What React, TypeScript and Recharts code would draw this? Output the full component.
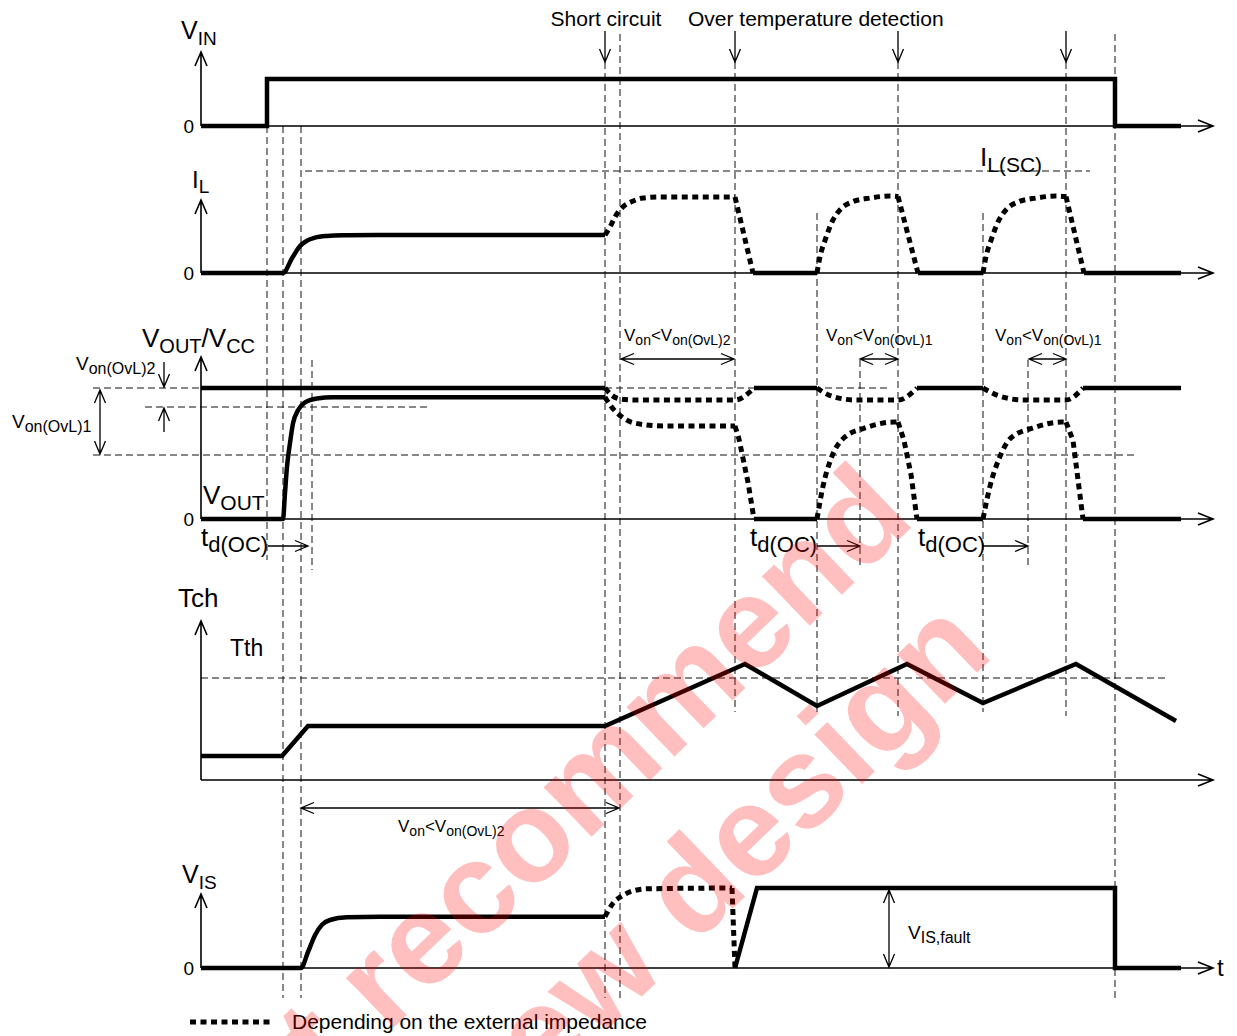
import React from "react";
import { ComposedChart, Line, XAxis, YAxis, ReferenceLine, ReferenceDot } from "recharts";

const W = 1237;
const H = 1036;
const FONT = "'Liberation Sans', Arial, Helvetica, sans-serif";

type Pt = [number, number | null];

// ---- signals: [time, value], null breaks a trace ----
// V_IN (1 = on)
const vinOn: Pt[] = [[0, 0], [6.6, 0], [6.6, 1], [91.4, 1], [91.4, 0], [98, 0]];

// I_L (1 = I_L(SC))
const ilNormal: Pt[] = [[0, 0], [8.2, 0], [9.1, 0.144], [9.9, 0.265], [10.6, 0.317], [11.4, 0.346], [12.6, 0.363], [14.2, 0.37], [17.6, 0.372], [40.4, 0.372]];
const ilOff: Pt[] = [[55.2, 0], [61.6, 0], [61.6, null], [71.7, 0], [78.2, 0], [78.2, null], [88.3, 0], [98, 0]];
const ilShortRise: Pt[] = [
  [40.4, 0.372], [40.9, 0.45], [41.4, 0.55], [42.1, 0.64], [43.1, 0.7], [44.2, 0.735], [45.9, 0.745], [53.4, 0.745], [53.4, null],
  [61.6, 0], [61.9, 0.16], [62.4, 0.32], [63.2, 0.52], [63.9, 0.62], [65.2, 0.7], [66.9, 0.735], [68.9, 0.755], [69.7, 0.75], [69.7, null],
  [78.2, 0], [78.5, 0.16], [79.0, 0.32], [79.8, 0.52], [80.5, 0.62], [81.8, 0.7], [83.5, 0.735], [85.5, 0.755], [86.5, 0.75],
];
const ilShortFall: Pt[] = [[53.4, 0.745], [55.2, 0], [55.2, null], [69.7, 0.75], [71.7, 0], [71.7, null], [86.5, 0.75], [88.3, 0]];

// V_CC and V_OUT (1 = V_CC)
const vccSolid: Pt[] = [[0, 1], [40.4, 1], [40.4, null], [55.3, 1], [61.6, 1], [61.6, null], [71.6, 1], [78.2, 1], [78.2, null], [88.2, 1], [98, 1]];
const vccDip: Pt[] = [
  [40.4, 1], [41.0, 0.95], [41.9, 0.916], [43.5, 0.908], [53.4, 0.908], [55.3, 1], [55.3, null],
  [61.6, 1], [63.0, 0.94], [65.5, 0.908], [69.7, 0.908], [71.6, 1], [71.6, null],
  [78.2, 1], [79.8, 0.94], [82.3, 0.908], [86.5, 0.908], [88.2, 1],
];
const voutNormal: Pt[] = [[0, 0], [8.2, 0], [8.4, 0.2], [8.6, 0.4], [8.9, 0.58], [9.2, 0.73], [9.7, 0.83], [10.4, 0.89], [11.6, 0.92], [13.2, 0.93], [40.4, 0.93]];
const voutOff: Pt[] = [[55.3, 0], [61.6, 0], [61.6, null], [71.6, 0], [78.2, 0], [78.2, null], [88.2, 0], [98, 0]];
const voutShortRise: Pt[] = [
  [40.4, 0.93], [41.0, 0.86], [41.9, 0.79], [43.3, 0.733], [46.2, 0.71], [53.4, 0.71], [53.4, null],
  [61.6, 0], [62.2, 0.25], [63.0, 0.46], [64.3, 0.62], [66.4, 0.695], [69.3, 0.74], [69.7, 0.74], [69.7, null],
  [78.2, 0], [78.9, 0.25], [79.8, 0.46], [81.0, 0.62], [83.2, 0.695], [86.1, 0.74], [86.5, 0.74],
];
const voutShortFall: Pt[] = [[53.4, 0.71], [53.8, 0.61], [54.7, 0.28], [55.3, 0], [55.3, null], [69.7, 0.74], [70.3, 0.6], [71.0, 0.34], [71.6, 0], [71.6, null], [86.5, 0.74], [87.2, 0.6], [88.2, 0]];

// T_ch (1 = Tth)
const tch: Pt[] = [[0, 0.235], [8.1, 0.235], [10.7, 0.53], [40.4, 0.53], [54.4, 1.137], [61.6, 0.725], [70.6, 1.137], [78.2, 0.755], [87.5, 1.137], [97.5, 0.578]];

// V_IS (1 = V_IS,fault)
const visNormal: Pt[] = [[0, 0], [10.0, 0], [10.7, 0.2], [11.4, 0.41], [12.1, 0.54], [12.9, 0.6], [14.6, 0.634], [17.9, 0.641], [40.4, 0.641]];
const visShortRise: Pt[] = [[40.4, 0.641], [41.2, 0.81], [42.1, 0.9], [43.1, 0.96], [44.6, 0.99], [53.1, 1]];
const visShortFall: Pt[] = [[53.1, 1], [53.4, 0]];
const visFault: Pt[] = [[53.4, 0], [55.6, 1], [91.4, 1], [91.4, 0], [98, 0]];

// ---- layout ----
const panels = [
  { id: "vin", base: 126, unit: 47, top: 52 },
  { id: "il", base: 273, unit: 102, top: 200 },
  { id: "vout", base: 519, unit: 131, top: 357 },
  { id: "tch", base: 780, unit: 102, top: 621 },
  { id: "vis", base: 968, unit: 80, top: 894 },
];

const series = [
  { axis: "vin", pts: vinOn, curve: "linear", dotted: false },
  { axis: "il", pts: ilNormal, curve: "monotone", dotted: false },
  { axis: "il", pts: ilOff, curve: "linear", dotted: false },
  { axis: "il", pts: ilShortRise, curve: "monotone", dotted: true },
  { axis: "il", pts: ilShortFall, curve: "linear", dotted: true },
  { axis: "vout", pts: vccSolid, curve: "linear", dotted: false },
  { axis: "vout", pts: vccDip, curve: "monotone", dotted: true },
  { axis: "vout", pts: voutNormal, curve: "monotone", dotted: false },
  { axis: "vout", pts: voutOff, curve: "linear", dotted: false },
  { axis: "vout", pts: voutShortRise, curve: "monotone", dotted: true },
  { axis: "vout", pts: voutShortFall, curve: "linear", dotted: true },
  { axis: "tch", pts: tch, curve: "linear", dotted: false },
  { axis: "vis", pts: visNormal, curve: "monotone", dotted: false },
  { axis: "vis", pts: visShortRise, curve: "monotone", dotted: true },
  { axis: "vis", pts: visShortFall, curve: "linear", dotted: true },
  { axis: "vis", pts: visFault, curve: "linear", dotted: false },
];

// dashed guides: vertical [t, y1, y2], horizontal [y, t1, t2]
const vGuides: [number, number, number][] = [
  [6.6, 126, 560], [8.2, 126, 998], [10.0, 126, 998], [11.1, 360, 570],
  [40.4, 62, 998], [41.9, 34, 998], [53.4, 62, 712], [61.6, 213, 712], [65.9, 360, 568],
  [69.7, 62, 716], [78.2, 213, 712], [82.7, 360, 568], [86.5, 62, 716], [91.4, 34, 998],
];
const hGuides: [number, number, number][] = [
  [171, 10.4, 88.9], [388, -10.8, 0], [388, 40.4, 69.0], [407, -5.6, 23.0], [455, -10.8, 93.4], [678, 0, 96.7],
];

type Head = "start" | "end" | "both";
const arrows: [number, number, number, number, Head][] = [
  [40.4, 31, 40.4, 62, "end"], [53.4, 31, 53.4, 62, "end"], [69.7, 31, 69.7, 62, "end"], [86.5, 31, 86.5, 62, "end"],
  [-3.7, 362, -3.7, 387, "end"], [-3.7, 432, -3.7, 408, "end"], [-10.1, 390, -10.1, 454, "both"],
  [6.7, 546, 10.7, 546, "end"], [61.6, 546, 65.9, 546, "end"], [78.2, 546, 82.7, 546, "end"],
  [42.0, 359, 53.3, 359, "both"], [65.9, 359, 69.7, 359, "both"], [82.8, 359, 86.5, 359, "both"],
  [10.0, 808, 41.8, 808, "both"], [68.8, 890, 68.8, 967, "both"],
];

type Part = [string, boolean?];
type Lbl = { t: number; y: number; parts: Part[]; size: number; sub?: number; anchor?: string };
const vOn = (n: string): Part[] => [["V"], ["on", true], ["<V"], ["on(OvL)" + n, true]];
const td: Part[] = [["t"], ["d(OC)", true]];
const labels: Lbl[] = [
  { t: -2.0, y: 39, parts: [["V"], ["IN", true]], size: 25, sub: 19 },
  { t: -0.9, y: 188, parts: [["I"], ["L", true]], size: 24, sub: 19 },
  { t: -5.9, y: 347, parts: [["V"], ["OUT", true], ["/V"], ["CC", true]], size: 26, sub: 20 },
  { t: -2.3, y: 607, parts: [["Tch"]], size: 26 },
  { t: 2.9, y: 656, parts: [["Tth"]], size: 23 },
  { t: -1.9, y: 883, parts: [["V"], ["IS", true]], size: 25, sub: 19 },
  { t: -0.7, y: 133, parts: [["0"]], size: 19, anchor: "end" },
  { t: -0.7, y: 280, parts: [["0"]], size: 19, anchor: "end" },
  { t: -0.7, y: 526, parts: [["0"]], size: 19, anchor: "end" },
  { t: -0.7, y: 975, parts: [["0"]], size: 19, anchor: "end" },
  { t: 101.6, y: 976, parts: [["t"]], size: 24 },
  { t: 40.5, y: 26, parts: [["Short circuit"]], size: 21, anchor: "middle" },
  { t: 48.7, y: 26, parts: [["Over temperature detection"]], size: 21 },
  { t: 77.9, y: 166, parts: [["I"], ["L(SC)", true]], size: 26, sub: 21 },
  { t: -12.5, y: 370, parts: [["V"], ["on(OvL)2", true]], size: 19, sub: 16 },
  { t: -18.9, y: 428, parts: [["V"], ["on(OvL)1", true]], size: 19, sub: 16 },
  { t: 0.2, y: 504, parts: [["V"], ["OUT", true]], size: 26, sub: 21 },
  { t: 0.0, y: 546, parts: td, size: 26, sub: 22 },
  { t: 54.9, y: 546, parts: td, size: 26, sub: 22 },
  { t: 71.7, y: 546, parts: td, size: 26, sub: 22 },
  { t: 42.3, y: 341, parts: vOn("2"), size: 17, sub: 14 },
  { t: 62.5, y: 341, parts: vOn("1"), size: 17, sub: 14 },
  { t: 79.4, y: 341, parts: vOn("1"), size: 17, sub: 14 },
  { t: 19.7, y: 832, parts: vOn("2"), size: 17, sub: 14 },
  { t: 70.7, y: 939, parts: [["V"], ["IS,fault", true]], size: 19, sub: 16 },
  { t: 9.1, y: 1029, parts: [["Depending on the external impedance"]], size: 21 },
];

const rows = (pts: Pt[]) => pts.map(([t, v]) => ({ t, v }));

const arrowShape = (head: Head, w: number, len = 13, half = 5.5) => (p: any) => {
  const { x1, y1, x2, y2 } = p;
  const L = Math.hypot(x2 - x1, y2 - y1) || 1;
  const ux = (x2 - x1) / L;
  const uy = (y2 - y1) / L;
  const wings = (tx: number, ty: number, s: number) => {
    const bx = tx - s * ux * len;
    const by = ty - s * uy * len;
    return `M${bx - uy * half},${by + ux * half}L${tx},${ty}L${bx + uy * half},${by - ux * half}`;
  };
  let d = `M${x1},${y1}L${x2},${y2}`;
  if (head !== "start") d += wings(x2, y2, 1);
  if (head !== "end") d += wings(x1, y1, -1);
  return <path d={d} fill="none" stroke="#000" strokeWidth={w} />;
};

const textShape = (l: Lbl) => (p: any) => {
  const shift = Math.round(l.size * 0.22);
  let low = false;
  return (
    <text x={p.cx} y={p.cy} fontFamily={FONT} fontSize={l.size} textAnchor={l.anchor || "start"} fill="#000">
      {l.parts.map(([s, isSub], i) => {
        const dy = isSub && !low ? shift : !isSub && low ? -shift : 0;
        low = !!isSub;
        return (
          <tspan key={i} dy={dy} fontSize={isSub ? l.sub : l.size}>
            {s}
          </tspan>
        );
      })}
    </text>
  );
};

export default function App() {
  return (
    <div style={{ position: "absolute", left: 0, top: 0, width: W, height: H, background: "#fff" }}>
      <ComposedChart width={W} height={H} margin={{ top: 0, right: 0, bottom: 0, left: 0 }}>
        <XAxis type="number" dataKey="t" domain={[-20.1, 103.6]} hide allowDataOverflow />
        <YAxis yAxisId="page" type="number" domain={[0, H]} reversed hide allowDataOverflow />
        {panels.map((p) => (
          <YAxis key={p.id} yAxisId={p.id} type="number" domain={[(p.base - H) / p.unit, p.base / p.unit]} hide allowDataOverflow />
        ))}

        {vGuides.map(([t, a, b], i) => (
          <ReferenceLine key={"v" + i} yAxisId="page" segment={[{ x: t, y: a }, { x: t, y: b }]} stroke="#111" strokeWidth={1} strokeDasharray="7 4" />
        ))}
        {hGuides.map(([y, a, b], i) => (
          <ReferenceLine key={"h" + i} yAxisId="page" segment={[{ x: a, y }, { x: b, y }]} stroke="#111" strokeWidth={1} strokeDasharray="7 4" />
        ))}

        {panels.map((p) => (
          <ReferenceLine key={"xa" + p.id} yAxisId="page" segment={[{ x: 0, y: p.base }, { x: 101.2, y: p.base }]} shape={arrowShape("end", 1.6, 15, 6)} />
        ))}
        {panels.map((p) => (
          <ReferenceLine key={"ya" + p.id} yAxisId="page" segment={[{ x: 0, y: p.base }, { x: 0, y: p.top }]} shape={arrowShape("end", 1.6, 14, 6)} />
        ))}

        {series.map((s, i) => (
          <Line
            key={"s" + i}
            data={rows(s.pts)}
            dataKey="v"
            yAxisId={s.axis}
            type={s.curve as any}
            stroke="#000"
            strokeWidth={s.dotted ? 5 : 4.5}
            strokeDasharray={s.dotted ? "6 4.5" : undefined}
            strokeLinejoin="miter"
            dot={false}
            activeDot={false}
            isAnimationActive={false}
          />
        ))}

        {arrows.map(([t1, y1, t2, y2, h], i) => (
          <ReferenceLine key={"a" + i} yAxisId="page" segment={[{ x: t1, y: y1 }, { x: t2, y: y2 }]} shape={arrowShape(h, 1.3)} />
        ))}
        <ReferenceLine yAxisId="page" segment={[{ x: -1.1, y: 1022 }, { x: 7.1, y: 1022 }]} stroke="#000" strokeWidth={5} strokeDasharray="6 4.5" />

        {labels.map((l, i) => (
          <ReferenceDot key={"l" + i} yAxisId="page" x={l.t} y={l.y} r={1} shape={textShape(l)} />
        ))}
      </ComposedChart>
      <svg width={W} height={H} style={{ position: "absolute", left: 0, top: 0, pointerEvents: "none" }}>
        <g transform="translate(590 895) rotate(-44)" fill="#f00" fillOpacity={0.25} fontFamily={FONT} fontWeight="bold" fontSize={130} textAnchor="middle">
          <text x={0} y={-41}>Not recommend</text>
          <text x={0} y={109}>for new design</text>
        </g>
      </svg>
    </div>
  );
}
